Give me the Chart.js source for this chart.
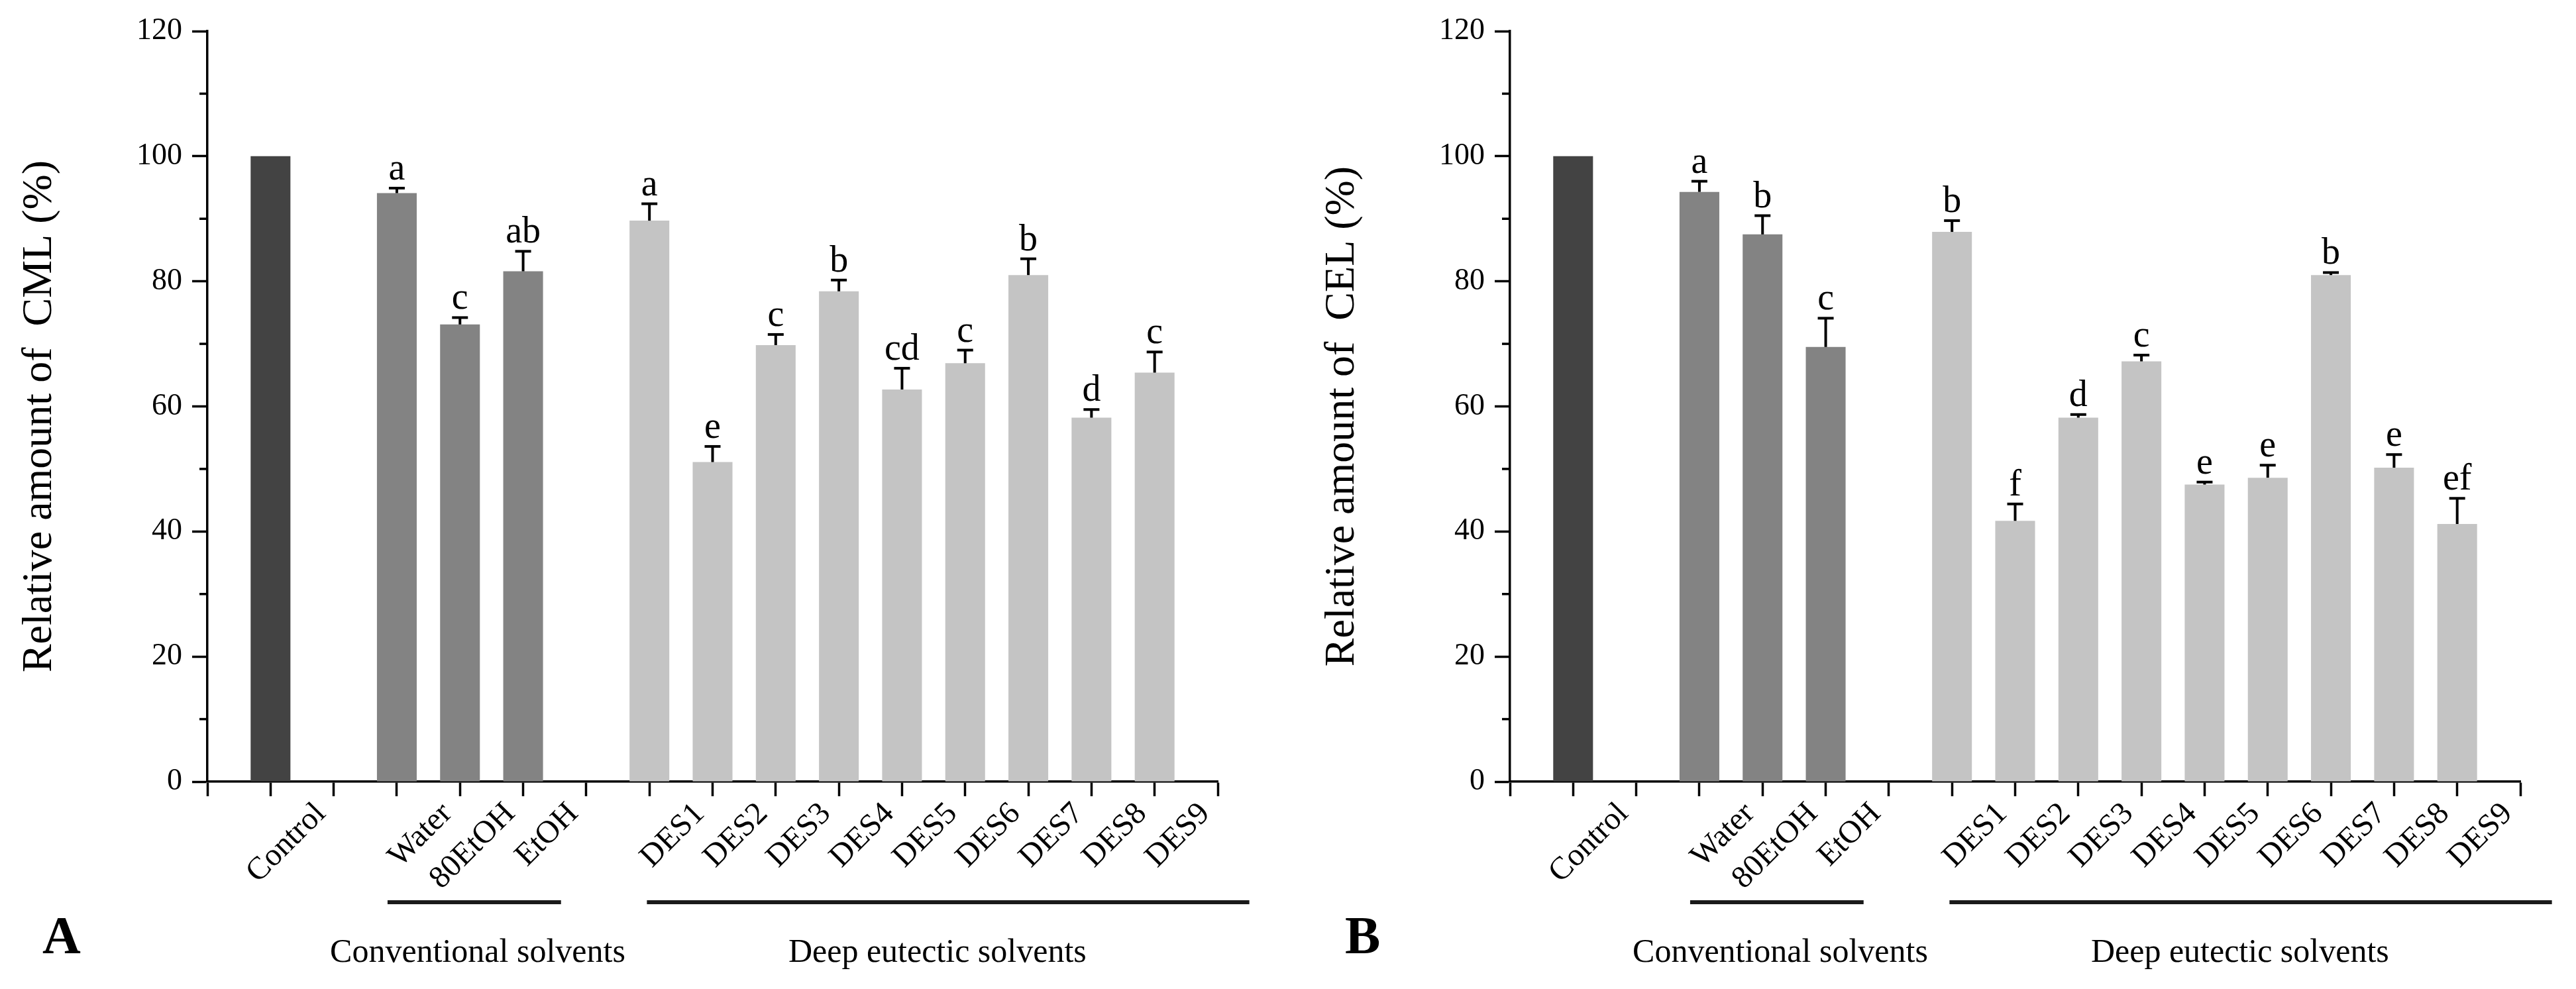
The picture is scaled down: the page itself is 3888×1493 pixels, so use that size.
<!DOCTYPE html>
<html>
<head>
<meta charset="utf-8">
<script src="https://cdn.jsdelivr.net/npm/chart.js@4.4.1/dist/chart.umd.min.js"></script>
<style>
html,body{margin:0;padding:0;background:#fff;width:3888px;height:1493px;overflow:hidden}
.wrap{position:absolute;top:0;height:1493px}
#wa{left:0;width:1944px}
#wb{left:1966px;width:1922px}
canvas{display:block}
</style>
</head>
<body>
<div class="wrap" id="wa"><canvas id="ca" width="1944" height="1493" style="width:1944px;height:1493px"></canvas></div>
<div class="wrap" id="wb"><canvas id="cb" width="1922" height="1493" style="width:1922px;height:1493px"></canvas></div>
<script>
// ---------- data ----------
const categories = ['', 'Control', '', 'Water', '80EtOH', 'EtOH', '', 'DES1', 'DES2', 'DES3', 'DES4', 'DES5', 'DES6', 'DES7', 'DES8', 'DES9', ''];
const groupOf    = ['', 'control', '', 'conv', 'conv', 'conv', '', 'des', 'des', 'des', 'des', 'des', 'des', 'des', 'des', 'des', ''];

const cmlValues  = [null, 100, null, 94.1, 73.1, 81.6, null, 89.7, 51.1, 69.8, 78.4, 62.7, 66.9, 81.0, 58.2, 65.4, null];
const cmlErrors  = [null, 0, null, 0.8, 1.1, 3.2, null, 2.7, 2.5, 1.7, 1.8, 3.4, 2.1, 2.6, 1.3, 3.3, null];
const cmlLetters = ['', '', '', 'a', 'c', 'ab', '', 'a', 'e', 'c', 'b', 'cd', 'c', 'b', 'd', 'c', ''];

const celValues  = [null, 100, null, 94.3, 87.5, 69.5, null, 87.9, 41.7, 58.2, 67.2, 47.5, 48.6, 81.0, 50.2, 41.2, null];
const celErrors  = [null, 0, null, 1.7, 3.0, 4.6, null, 1.8, 2.7, 0.5, 1.0, 0.4, 2.0, 0.4, 2.1, 4.1, null];
const celLetters = ['', '', '', 'a', 'b', 'c', '', 'b', 'f', 'd', 'c', 'e', 'e', 'b', 'e', 'ef', ''];

const yTicksMajor = [0, 20, 40, 60, 80, 100, 120];
const yTicksMinor = [10, 30, 50, 70, 90, 110];

const groupLabels = ['Conventional solvents', 'Deep eutectic solvents'];

// ---------- styles ----------
const groupColors = {control: '#434343', conv: '#838383', des: '#c4c4c4', '': 'rgba(0,0,0,0)'};
const SERIF = '"Liberation Serif", "Times New Roman", serif';

function makeDecor(cfg) {
  return {
    id: 'decor',
    afterDraw(chart) {
      const ctx = chart.ctx;
      const xs = chart.scales.x, ys = chart.scales.y;
      const ca = chart.chartArea;
      ctx.save();
      ctx.fillStyle = '#000';
      ctx.strokeStyle = '#000';
      // minor y ticks
      ctx.lineWidth = 3.5;
      yTicksMinor.forEach(v => {
        const y = ys.getPixelForValue(v);
        ctx.beginPath(); ctx.moveTo(ca.left - 12, y); ctx.lineTo(ca.left, y); ctx.stroke();
      });
      // error bars + letters
      const meta = chart.getDatasetMeta(0);
      ctx.lineWidth = 4;
      cfg.values.forEach((v, i) => {
        if (v === null) return;
        const bar = meta.data[i];
        const x = bar.x;
        const err = cfg.errors[i] || 0;
        const yTop = ys.getPixelForValue(v);
        const yCap = ys.getPixelForValue(v + err);
        if (err > 0) {
          ctx.beginPath(); ctx.moveTo(x, yTop); ctx.lineTo(x, yCap); ctx.stroke();
          ctx.beginPath(); ctx.moveTo(x - 12, yCap); ctx.lineTo(x + 12, yCap); ctx.stroke();
        }
        if (cfg.letters[i]) {
          ctx.font = '56px ' + SERIF;
          ctx.textAlign = 'center';
          ctx.textBaseline = 'alphabetic';
          ctx.fillText(cfg.letters[i], x, yCap - 13);
        }
      });
      // rotated x labels
      ctx.font = '48px ' + SERIF;
      ctx.textAlign = 'right';
      ctx.textBaseline = 'alphabetic';
      categories.forEach((lab, i) => {
        if (!lab) return;
        const x = xs.getPixelForValue(i);
        ctx.save();
        ctx.translate(x + 85, xs.top + 50);
        ctx.rotate(-Math.PI / 4);
        ctx.fillText(lab, 0, 0);
        ctx.restore();
      });
      // group underlines
      ctx.lineWidth = 6;
      ctx.strokeStyle = '#1a1a1a';
      const yLine = xs.top + 182;
      [[2.853, 5.6], [6.96, 16.5]].forEach(r => {
        ctx.beginPath();
        ctx.moveTo(xs.getPixelForValue(r[0]), yLine);
        ctx.lineTo(xs.getPixelForValue(r[1]), yLine);
        ctx.stroke();
      });
      // group labels
      ctx.font = '50px ' + SERIF;
      ctx.textAlign = 'center';
      ctx.fillStyle = '#000';
      ctx.fillText(groupLabels[0], xs.getPixelForValue(4.28), xs.top + 272);
      ctx.fillText(groupLabels[1], xs.getPixelForValue(11.56), xs.top + 272);
      // panel letter
      ctx.font = 'bold 80px ' + SERIF;
      ctx.textAlign = 'left';
      ctx.fillText(cfg.panel, 64, 1439);
      // y title
      ctx.save();
      ctx.font = '64px ' + SERIF;
      ctx.translate(77, (ca.top + ca.bottom) / 2 + 15);
      ctx.rotate(-Math.PI / 2);
      ctx.textAlign = 'center';
      ctx.textBaseline = 'alphabetic';
      ctx.fillText(cfg.yTitle, 0, 0);
      ctx.restore();
      ctx.restore();
    }
  };
}

function makeChart(canvasId, values, errors, letters, panel, yTitle, padRight) {
  const cfg = {values, errors, letters, panel, yTitle};
  return new Chart(document.getElementById(canvasId), {
    type: 'bar',
    data: {
      labels: categories,
      datasets: [{
        data: values,
        backgroundColor: groupOf.map(g => groupColors[g]),
        borderWidth: 0,
        barPercentage: 0.63,
        categoryPercentage: 1.0
      }]
    },
    options: {
      responsive: false,
      animation: false,
      devicePixelRatio: 1,
      layout: {padding: {top: 47, left: 0, right: padRight, bottom: 0}},
      plugins: {legend: {display: false}, tooltip: {enabled: false}},
      scales: {
        x: {
          type: 'category',
          offset: false,
          grid: {offset: false, drawOnChartArea: false, drawTicks: true, tickLength: 22, tickWidth: 3.5, tickColor: '#000'},
          border: {display: true, color: '#000', width: 3.5},
          ticks: {display: false, autoSkip: false},
          afterFit(scale) { scale.height = 1493 - 1180; }
        },
        y: {
          min: 0, max: 120,
          afterBuildTicks(scale) { scale.ticks = yTicksMajor.map(v => ({value: v})); },
          grid: {drawOnChartArea: false, drawTicks: true, tickLength: 23, tickWidth: 3.5, tickColor: '#000'},
          border: {display: true, color: '#000', width: 3.5},
          ticks: {color: '#000', padding: 15, font: {family: SERIF, size: 46}},
          afterFit(scale) { scale.width = 313; }
        }
      }
    },
    plugins: [makeDecor(cfg)]
  });
}

makeChart('ca', cmlValues, cmlErrors, cmlLetters, 'A', 'Relative amount of  CML (%)', 1944 - 1838);
makeChart('cb', celValues, celErrors, celLetters, 'B', 'Relative amount of  CEL (%)', 1922 - 1838);
</script>
</body>
</html>
